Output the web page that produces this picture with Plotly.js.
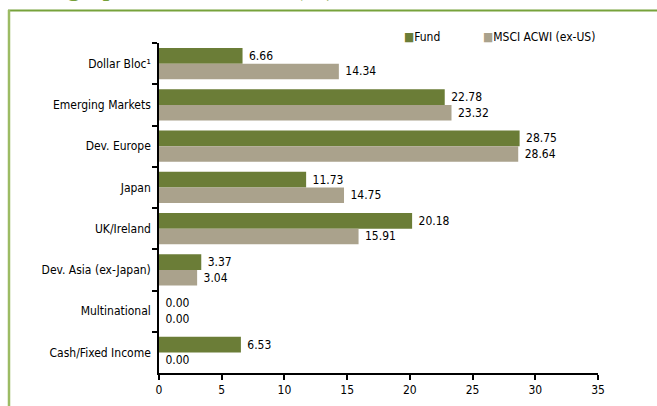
<!DOCTYPE html>
<html>
<head>
<meta charset="utf-8">
<script src="https://cdn.plot.ly/plotly-3.0.1.min.js"></script>
<style>html,body{margin:0;padding:0;background:#fff;overflow:hidden}</style>
</head>
<body>
<div id="chart" style="width:657px;height:406px"></div>
<script>
const categories = ["Dollar Bloc¹", "Emerging Markets", "Dev. Europe", "Japan", "UK/Ireland", "Dev. Asia (ex-Japan)", "Multinational", "Cash/Fixed Income"];
const fundValues = [6.66, 22.78, 28.75, 11.73, 20.18, 3.37, 0.00, 6.53];
const msciValues = [14.34, 23.32, 28.64, 14.75, 15.91, 3.04, 0.00, 0.00];
const xTicks = [0, 5, 10, 15, 20, 25, 30, 35];
const seriesNames = ["Fund", "MSCI ACWI (ex-US)"];
const seriesColors = ["#6b7d37", "#aaa28c"];

const FONT = "'Liberation Sans Narrow', 'DejaVu Sans Condensed', 'Arial Narrow', sans-serif";
const W = 657, H = 406, L = 159, R = 59, T = 43, B = 33;
const pw = W - L - R, ph = H - T - B;
const px = x => (x - L) / pw;
const py = y => 1 - (y - T) / ph;

const seriesValues = [fundValues, msciValues];
const traces = seriesValues.map((vals, i) => ({
  type: 'bar', orientation: 'h', name: seriesNames[i],
  y: categories, x: vals,
  marker: {color: seriesColors[i]},
  text: vals.map(v => '\u00a0' + v.toFixed(2)),
  textposition: 'outside', cliponaxis: false,
  textfont: {family: FONT, size: 12, color: '#000'},
  hoverinfo: 'x+name', showlegend: false
}));

// legend drawn as text items (square glyph + name) placed like the reference
const legendX = [402, 481];
const legendAnn = seriesNames.map((n, i) => ({
  xref: 'paper', yref: 'paper', x: px(legendX[i]), y: py(37),
  xanchor: 'left', yanchor: 'middle', showarrow: false,
  text: '<span style="color:' + seriesColors[i] + '">■</span>' + n,
  font: {family: FONT, size: 12, color: '#000'}
}));

const layout = {
  width: W, height: H,
  margin: {l: L, r: R, t: T, b: B, pad: 0},
  paper_bgcolor: '#fff', plot_bgcolor: '#fff',
  font: {family: FONT, size: 12, color: '#000'},
  barmode: 'group', bargap: 0.24, bargroupgap: 0,
  title: {
    text: 'Geographic Breakdown (%)',
    font: {family: "'Liberation Serif', 'DejaVu Serif', serif", size: 28, color: '#76a03a'},
    xref: 'container', x: 20 / W, xanchor: 'left',
    yref: 'container', y: 1, yanchor: 'bottom', pad: {b: 5}
  },
  showlegend: false,
  annotations: legendAnn,
  xaxis: {
    range: [0, 35], tickvals: xTicks, ticktext: xTicks.map(String),
    showgrid: false, zeroline: false,
    showline: true, linecolor: '#000', linewidth: 1.5,
    ticks: 'outside', ticklen: 5, tickwidth: 1.5, tickcolor: '#000',
    tickfont: {family: FONT, size: 12, color: '#000'},
    fixedrange: true
  },
  yaxis: {
    type: 'category', autorange: 'reversed',
    showgrid: false, zeroline: false,
    showline: true, linecolor: '#000', linewidth: 1.5,
    ticks: 'outside', tickson: 'boundaries', ticklen: 5, tickwidth: 1.5, tickcolor: '#000',
    ticklabelstandoff: 4,
    tickfont: {family: FONT, size: 12, color: '#000'},
    fixedrange: true
  },
  shapes: [
    {type: 'line', xref: 'paper', yref: 'paper', x0: px(8), x1: px(660), y0: py(10.5), y1: py(10.5),
     line: {color: '#77a23b', width: 2}},
    {type: 'line', xref: 'paper', yref: 'paper', x0: px(9), x1: px(9), y0: py(10), y1: py(410),
     line: {color: '#9cbb64', width: 2.5}}
  ]
};

Plotly.newPlot('chart', traces, layout, {displayModeBar: false});
</script>
</body>
</html>
